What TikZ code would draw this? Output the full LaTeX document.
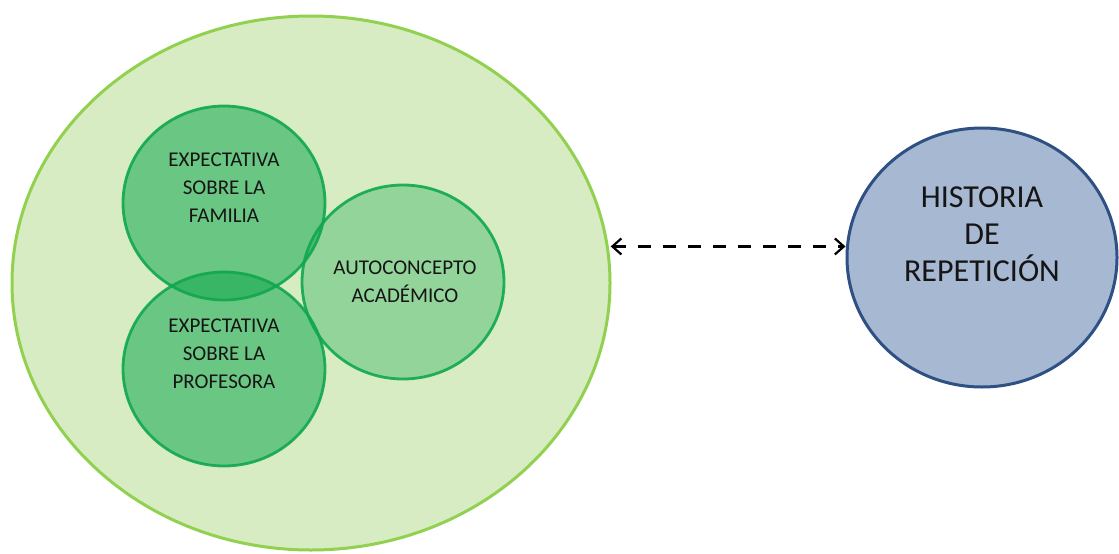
\documentclass[tikz,border=0pt]{standalone}
\usepackage{fontspec}
\setmainfont{Carlito}
\usepackage{xcolor}
\usepackage{tikz}
\usetikzlibrary{shapes.geometric,arrows,arrows.meta,calc,positioning}

\definecolor{bgverde}{HTML}{D8ECC4}
\definecolor{bordeverde}{HTML}{92D050}
\definecolor{verde}{HTML}{10A84E}
\definecolor{azul}{HTML}{A7B8D2}
\definecolor{bordeazul}{HTML}{2E5083}
\definecolor{texto}{HTML}{151515}

\begin{document}
\begin{tikzpicture}[x = 1pt, y = -1pt]
	\tikzstyle{every node} = [ellipse, inner sep = 0pt]
	\tikzstyle{grande} = [draw = bordeverde, line width = 3pt, fill = bgverde, minimum width = 598pt, minimum height = 534pt]
	\tikzstyle{circ} = [draw = verde, line width = 2.8pt, fill = verde, fill opacity = 0.55, draw opacity = 0.9, minimum width = 202pt, minimum height = 194pt]
	\tikzstyle{historia} = [draw = bordeazul, line width = 3pt, fill = azul, minimum width = 270pt, minimum height = 259pt]
	\tikzstyle{txt} = [rectangle, align = center, text = texto, font = \fontsize{21}{28}\selectfont]
	\useasboundingbox (0, 0) rectangle (1119, 554);
\node[grande] (0) at (311, 283) {};
\node[circ] (1) at (224, 203) {};
\node[circ] (2) at (224, 369) {};
\node[circ, fill opacity = 0.35] (3) at (403, 282) {};
\node[historia] (4) at (982, 257.5) {};
\node[txt] (5) at ([yshift = 15pt]1.center) {EXPECTATIVA\\SOBRE LA\\FAMILIA};
\node[txt] (6) at ([yshift = 15pt]2.center) {EXPECTATIVA\\SOBRE LA\\PROFESORA};
\node[txt] (7) at ([xshift = 2pt]3.center) {AUTOCONCEPTO\\ACADÉMICO};
\node[txt, font = \fontsize{32}{37}\selectfont] (8) at ([yshift = 23pt]4.center) {HISTORIA\\DE\\REPETICIÓN};
	\coordinate (9) at (0.7.7);
	\path[draw, line width = 2.2pt, dash pattern = on 13pt off 12pt, {Straight Barb[length = 9pt, width = 16pt]}-{Straight Barb[length = 9pt, width = 16pt]}, shorten <= 2pt] (9) -- (9 -| 4.west);
	\end{tikzpicture}
\end{document}
